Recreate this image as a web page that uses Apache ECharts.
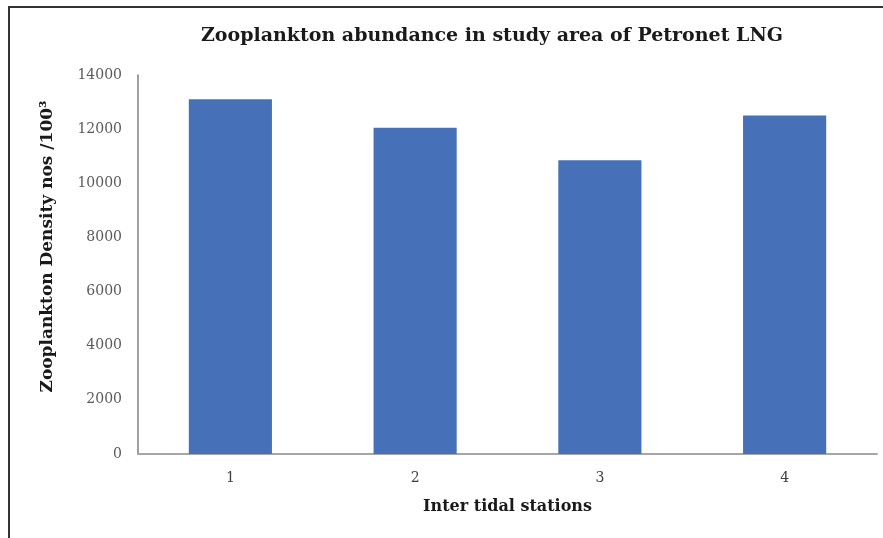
<!DOCTYPE html>
<html>
<head>
<meta charset="utf-8">
<script src="https://cdn.jsdelivr.net/npm/echarts@6/dist/echarts.min.js"></script>
<style>
html,body{margin:0;padding:0;background:#fff;}
#frame{position:absolute;left:8px;top:6px;width:880px;height:540px;border-top:2px solid #333;border-left:2px solid #333;}
#chart{position:absolute;left:0;top:0;width:883px;height:538px;}
</style>
</head>
<body>
<div id="frame"></div>
<div id="chart"></div>
<script>
const categories = ['1', '2', '3', '4'];
const densityValues = [13100, 12050, 10850, 12500];
const yTicks = [0, 2000, 4000, 6000, 8000, 10000, 12000, 14000];

const chart = echarts.init(document.getElementById('chart'), null, {renderer: 'canvas'});
const serif = '"DejaVu Serif", "Liberation Serif", serif';
chart.setOption({
  backgroundColor: 'transparent',
  animation: false,
  title: {
    text: 'Zooplankton abundance in study area of Petronet LNG',
    left: 487, top: 22, textAlign: 'center',
    textStyle: {fontFamily: serif, fontWeight: 'bold', fontSize: 19, color: '#1a1a1a'}
  },
  grid: {left: 138, right: 6, top: 75, bottom: 84, containLabel: false},
  xAxis: {
    type: 'category',
    data: categories,
    name: 'Inter tidal stations',
    nameLocation: 'middle',
    nameGap: 45,
    nameTextStyle: {fontFamily: serif, fontWeight: 'bold', fontSize: 16, color: '#1a1a1a'},
    axisLine: {lineStyle: {color: '#a6a6a6', width: 2}},
    axisTick: {show: false},
    axisLabel: {fontFamily: serif, fontSize: 14, color: '#404040', margin: 17}
  },
  yAxis: {
    type: 'value',
    min: yTicks[0],
    max: yTicks[yTicks.length - 1],
    interval: yTicks[1] - yTicks[0],
    name: 'Zooplankton Density nos /100³',
    nameLocation: 'middle',
    nameGap: 82,
    nameTextStyle: {fontFamily: serif, fontWeight: 'bold', fontSize: 17, color: '#1a1a1a', padding: [0, 0, 0, 36]},
    axisLine: {show: true, lineStyle: {color: '#7f7f7f', width: 1.5}},
    axisTick: {show: false},
    splitLine: {show: false},
    axisLabel: {fontFamily: serif, fontSize: 14, color: '#595959', margin: 16, formatter: v => String(v)}
  },
  series: [{
    type: 'bar',
    data: densityValues,
    barCategoryGap: '55%',
    itemStyle: {color: '#4670B8'}
  }]
});
</script>
</body>
</html>
